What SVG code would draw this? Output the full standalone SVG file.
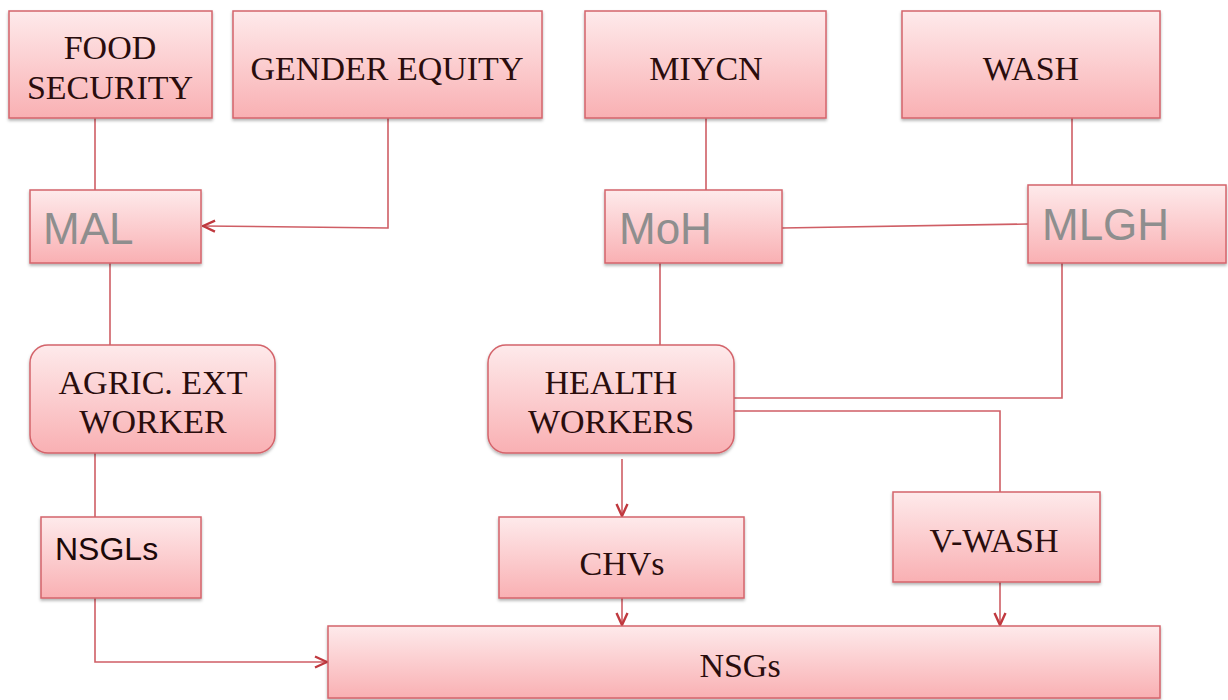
<svg xmlns="http://www.w3.org/2000/svg" width="1228" height="700" viewBox="0 0 1228 700">
<defs>
<linearGradient id="g" x1="0" y1="0" x2="0" y2="1">
<stop offset="0" stop-color="#feeaeb"/>
<stop offset="1" stop-color="#f9b0b3"/>
</linearGradient>
<filter id="sh" x="-10%" y="-10%" width="120%" height="130%">
<feDropShadow dx="0" dy="2" stdDeviation="1.5" flood-color="#000" flood-opacity="0.3"/>
</filter>
<marker id="arr" viewBox="0 0 14 14" refX="13" refY="7" markerWidth="14" markerHeight="14" markerUnits="userSpaceOnUse" orient="auto">
<path d="M1,1.5 L13,7 L1,12.5" fill="none" stroke="#c0393f" stroke-width="2.4"/>
</marker>
</defs>
<style>
.box{fill:url(#g);stroke:#d4646b;stroke-width:1.5;filter:url(#sh)}
.t{font-family:"Liberation Serif","Times New Roman",serif;font-size:34px;fill:#2a0d0d;text-anchor:middle}
.s{font-family:"Liberation Sans",Arial,sans-serif;font-size:44px;fill:#8e8e8e}
.n{font-family:"Liberation Sans",Arial,sans-serif;font-size:32px;fill:#1a0808}
.c{fill:none;stroke:#cf5e65;stroke-width:1.6}
</style>
<rect width="1228" height="700" fill="#fff"/>
<g id="connectors">
<path class="c" d="M95,118 V190"/>
<path class="c" d="M388,118 V228 L203,226" marker-end="url(#arr)"/>
<path class="c" d="M110,263 V345"/>
<path class="c" d="M95,453 V517"/>
<path class="c" d="M95,598 V662 H327" marker-end="url(#arr)"/>
<path class="c" d="M706,118 V190"/>
<path class="c" d="M1072,118 V185"/>
<path class="c" d="M782,228 L1028,224"/>
<path class="c" d="M660,263 V345"/>
<path class="c" d="M1062,263 V398 H734"/>
<path class="c" d="M734,411 H1000 V492"/>
<path class="c" d="M622,459 V516" marker-end="url(#arr)"/>
<path class="c" d="M622,598 V625" marker-end="url(#arr)"/>
<path class="c" d="M1000,582 V625" marker-end="url(#arr)"/>
</g>
<g id="food-security"><rect class="box" x="9" y="11" width="203" height="107"/><text class="t" x="110" y="59">FOOD</text><text class="t" x="110" y="99">SECURITY</text></g>
<g id="gender-equity"><rect class="box" x="233" y="11" width="309" height="107"/><text class="t" x="387" y="80">GENDER EQUITY</text></g>
<g id="miycn"><rect class="box" x="585" y="11" width="241" height="107"/><text class="t" x="706" y="80">MIYCN</text></g>
<g id="wash"><rect class="box" x="902" y="11" width="258" height="107"/><text class="t" x="1031" y="80">WASH</text></g>
<g id="mal"><rect class="box" x="30" y="190" width="171" height="73"/><text class="s" x="43" y="244">MAL</text></g>
<g id="moh"><rect class="box" x="605" y="190" width="177" height="73"/><text class="s" x="619" y="244">MoH</text></g>
<g id="mlgh"><rect class="box" x="1028" y="185" width="198" height="78"/><text class="s" x="1042" y="240">MLGH</text></g>
<g id="agric-ext-worker"><rect class="box" x="30" y="345" width="245" height="108" rx="18"/><text class="t" x="153" y="394">AGRIC. EXT</text><text class="t" x="153" y="433">WORKER</text></g>
<g id="health-workers"><rect class="box" x="488" y="345" width="246" height="108" rx="18"/><text class="t" x="611" y="394">HEALTH</text><text class="t" x="611" y="433">WORKERS</text></g>
<g id="nsgls"><rect class="box" x="41" y="517" width="160" height="81"/><text class="n" x="55" y="560">NSGLs</text></g>
<g id="chvs"><rect class="box" x="499" y="517" width="245" height="81"/><text class="t" x="622" y="575">CHVs</text></g>
<g id="v-wash"><rect class="box" x="893" y="492" width="207" height="90"/><text class="t" x="994" y="552">V-WASH</text></g>
<g id="nsgs"><rect class="box" x="328" y="626" width="832" height="72"/><text class="t" x="740" y="677">NSGs</text></g>
</svg>
